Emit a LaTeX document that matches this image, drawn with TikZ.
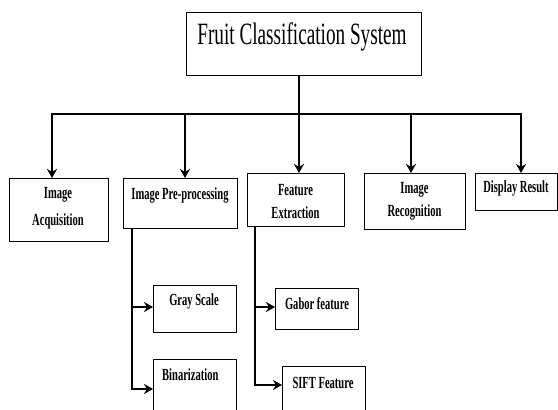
\documentclass[tikz,border=0pt]{standalone}
\usepackage{fontspec}
\setmainfont{Liberation Serif}
\newfontfamily\condfont[FakeStretch=0.62]{Liberation Serif}
\usetikzlibrary{arrows.meta}
\begin{document}
\begin{tikzpicture}[x=1pt,y=-1pt,
  box/.style={draw=black, line width=0.9pt, anchor=north west, inner sep=0pt},
  lbl/.style={font=\condfont\bfseries\fontsize{17}{27}\selectfont, align=center, inner sep=0pt},
  lbltight/.style={lbl, font=\condfont\bfseries\fontsize{17}{23}\selectfont},
  ttl/.style={font=\condfont\fontsize{31}{36}\selectfont, inner sep=0pt},
  arr/.style={line width=2.4pt, line join=miter, -{Stealth[length=9pt,width=10pt]}},
  thinline/.style={line width=1.2pt}
]
\fill[white] (0,0) rectangle (558,410);
\clip (0,0) rectangle (558,410);

% boxes
\node[box, minimum width=235, minimum height=63] (title) at (186,12) {};
\node[box, minimum width=99, minimum height=63] (acq) at (9,178) {};
\node[box, minimum width=114, minimum height=50] (pre) at (123,178) {};
\node[box, minimum width=97, minimum height=53] (feat) at (247,173) {};
\node[box, minimum width=101, minimum height=56] (recog) at (364,173) {};
\node[box, minimum width=82, minimum height=37] (disp) at (475,173) {};
\node[box, minimum width=83, minimum height=47] (gray) at (153,285) {};
\node[box, minimum width=83, minimum height=70] (bin) at (153,359) {};
\node[box, minimum width=83, minimum height=41] (gabor) at (275,288) {};
\node[box, minimum width=83, minimum height=60] (sift) at (282,366) {};

% texts
\node[ttl] (title-t) at (302,37) {Fruit Classification System};
\node[lbl] (acq-t) at (58,208.5) {Image\\Acquisition};
\node[lbl] (pre-t) at (180,195) {Image Pre-processing};
\node[lbltight] (feat-t) at (295.5,201.5) {Feature\\Extraction};
\node[lbltight] (recog-t) at (414.5,201.5) {Image\\Recognition};
\node[lbl] (disp-t) at (516,188) {Display Result};
\node[lbl] (gray-t) at (194,301) {Gray Scale};
\node[lbl] (gabor-t) at (317,304) {Gabor feature};
\node[lbl, anchor=west] (bin-t) at (162,375) {Binarization};
\node[lbl] (sift-t) at (323,383) {SIFT Feature};

% bus
\coordinate (busL) at (52,114);
\coordinate (busR) at (521,114);
\coordinate (b2) at (185,114);
\coordinate (b3) at (299,114);
\coordinate (b4) at (411,114);
\draw[thinline] (title.south -| b3) -- (b3);
\draw[arr] (b3) -- (busL) -- (busL |- acq.north);
\draw[arr] (b3) -- (busR) -- (busR |- disp.north);
\draw[arr] (b2) -- (b2 |- pre.north);
\draw[arr] (b3) -- (b3 |- feat.north);
\draw[arr] (b4) -- (b4 |- recog.north);

% sub-branches
\coordinate (pv) at (132,307);
\coordinate (ba) at (132,389);
\coordinate (fv) at (255,307);
\coordinate (fa) at (255,385);
\draw[arr] (pre.south -| ba) -- (ba) -- (ba -| bin.west);
\draw[arr] (pv) -- (pv -| gray.west);
\draw[arr] (feat.south -| fa) -- (fa) -- (fa -| sift.west);
\draw[arr] (fv) -- (fv -| gabor.west);
\end{tikzpicture}
\end{document}
